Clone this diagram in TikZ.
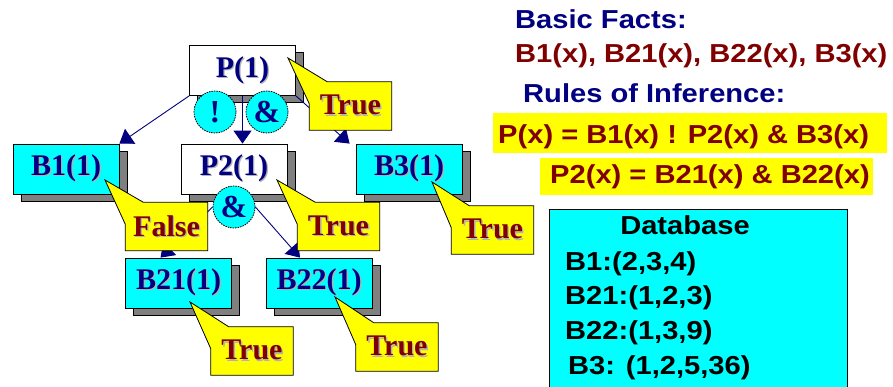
\documentclass[tikz,border=0pt]{standalone}
\usepackage{fontspec}
\setmainfont{Liberation Serif}
\newfontfamily\widesans[FakeStretch=1.12]{Liberation Sans}
\usetikzlibrary{arrows.meta,calc,shadows}

\definecolor{navy}{RGB}{0,0,128}
\definecolor{maroon}{RGB}{128,0,0}
\definecolor{aqua}{RGB}{0,255,255}
\definecolor{lemon}{RGB}{255,255,0}
\definecolor{shade}{RGB}{128,128,128}

% text with a faint grey drop shadow
\newcommand\embossed[1]{\makebox[0pt][l]{\hspace{1.3pt}\raisebox{-1.3pt}{\textcolor{black!30}{#1}}}#1}

\tikzset{
  x=1pt, y=-1pt,
  stepbox/.style={draw=black, line width=0.8pt, minimum width=106pt, minimum height=50pt,
    inner sep=0pt, text=navy, font=\fontsize{30}{30}\selectfont\bfseries,
    general shadow={fill=shade, draw=black, line width=0.6pt, shadow xshift=8pt, shadow yshift=-7pt}},
  factbox/.style={stepbox, fill=aqua},
  rulebox/.style={stepbox, fill=white},
  op/.style={circle, fill=aqua, draw=black, dash pattern=on 1.5pt off 1pt, line width=0.8pt,
    minimum size=42pt, inner sep=0pt, text=navy, font=\fontsize{32}{32}\selectfont\bfseries},
  conn/.style={draw=navy, line width=0.9pt, -{Triangle[width=18pt,length=13pt]}},
  tagframe/.style={minimum width=82pt, minimum height=48pt, inner sep=0pt},
  tagfill/.style={fill=lemon, draw=black, line width=0.8pt},
  tagtext/.style={text=maroon, font=\fontsize{30}{30}\selectfont\bfseries, inner sep=0pt},
  heading/.style={inner sep=0pt, font=\widesans\bfseries\fontsize{26}{26}\selectfont},
  hlbar/.style={fill=lemon, inner sep=0pt},
  dbbox/.style={draw=black, line width=1pt, fill=aqua, inner sep=0pt},
}

% yellow speech tag: name, centre, tip coordinate, text
\newcommand\speechtag[4]{%
  \node[tagframe] (#1) at (#2) {};
  \filldraw[tagfill] ($(#1.north west)+(0,22)$) -- (#3) -- ($(#1.north west)+(18,0)$)
    -- (#1.north east) -- (#1.south east) -- (#1.south west) -- cycle;
  \node[tagtext] (#1-text) at (#1.center) {\embossed{#4}};
}

\begin{document}
\begin{tikzpicture}
\useasboundingbox (0,0) rectangle (893,387);
\clip (0,0) rectangle (893,387);

% inference tree
\node[rulebox] (P) at (242.5,70.5) {\embossed{P(1)}};
\node[factbox] (B1) at (66,169) {\embossed{B1(1)}};
\node[rulebox] (P2) at (234,169) {\embossed{P2(1)}};
\node[factbox] (B3) at (409,169) {\embossed{B3(1)}};
\node[factbox] (B21) at (178.5,283) {\embossed{B21(1)}};
\node[factbox] (B22) at (319,283) {\embossed{B22(1)}};

\coordinate (and2pos) at (234,207);
\draw[conn] (P.south west) -- (B1.north east);
\draw[conn] (P.south) -- (P.south |- P2.north);
\draw[conn] (P.south east) -- ($(B3.north west)+(-6,0)$);

% operators
\node[op] (or) at (215,112) {!};
\node[op] (and1) at (267,112) {\&};
\node[op] (and2) at (and2pos) {\&};

\draw[conn] (and2.west) -- ($(B21.north)+(-18,0)$);
\draw[conn] (and2.east) -- ($(B22.north)+(-19,0)$);

% truth values
\coordinate (tipP) at (288,58);
\coordinate (tipB1) at (105,180);
\coordinate (tipP2) at (277,180);
\coordinate (tipB3) at (432,182);
\coordinate (tipB21) at (190,302);
\coordinate (tipB22) at (335,297);
\speechtag{tagP}{350.5,106}{tipP}{True}
\speechtag{tagB1}{166.5,226.5}{tipB1}{False}
\speechtag{tagP2}{338.5,226.5}{tipP2}{True}
\speechtag{tagB3}{492.5,230}{tipB3}{True}
\speechtag{tagB21}{252,351}{tipB21}{True}
\speechtag{tagB22}{397,347}{tipB22}{True}

% facts and rules
\node[heading, text=navy, anchor=base west] (facts) at (515,29) {Basic Facts:};
\node[heading, text=maroon, anchor=base west] (factlist) at (515,63) {B1(x), B21(x), B22(x), B3(x)};
\node[heading, text=navy, anchor=base west] (rules) at (523,103) {Rules of Inference:};
\node[hlbar, minimum width=394pt, minimum height=40pt] (hl1) at (690,133) {};
\node[heading, text=maroon, anchor=base west] (rule1) at (498,144) {P(x) = B1(x) ! P2(x) \& B3(x)};
\node[hlbar, minimum width=333pt, minimum height=37pt] (hl2) at (706.5,176.5) {};
\node[heading, text=maroon, anchor=base west] (rule2) at (550,184) {P2(x) = B21(x) \& B22(x)};

% database
\node[dbbox, minimum width=298pt, minimum height=182pt] (db) at (698,301) {};
\node[heading, anchor=base] (dbtitle) at (685,235) {Database};
\node[heading, anchor=base west] (db1) at (565,270) {B1:(2,3,4)};
\node[heading, anchor=base west] (db2) at (565,304) {B21:(1,2,3)};
\node[heading, anchor=base west] (db3) at (565,339) {B22:(1,3,9)};
\node[heading, anchor=base west] (db4) at (568,374) {B3: (1,2,5,36)};
\end{tikzpicture}
\end{document}
